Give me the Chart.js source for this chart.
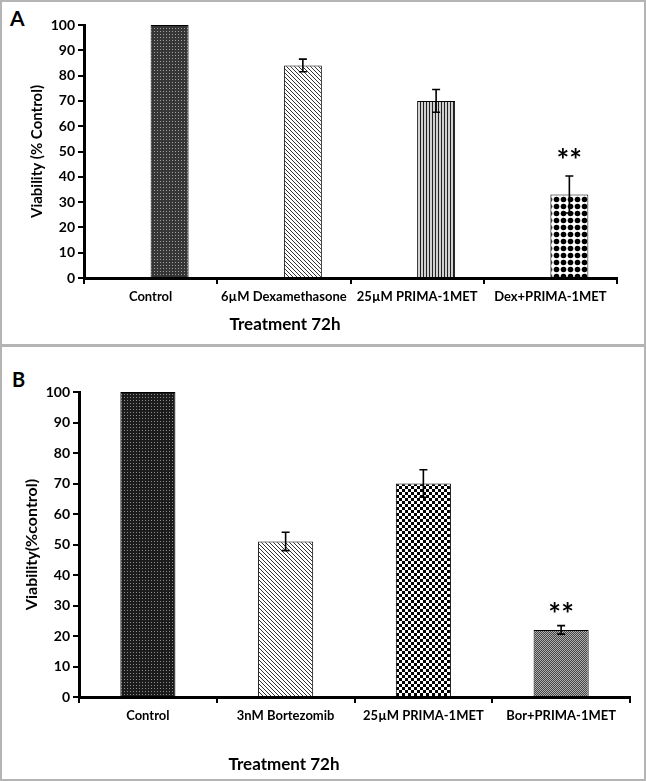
<!DOCTYPE html>
<html>
<head>
<meta charset="utf-8">
<script src="https://cdn.jsdelivr.net/npm/chart.js@4.4.1/dist/chart.umd.min.js"></script>
<style>
  body { margin: 0; background: #fff; font-family: Lato, sans-serif; }
  #page { position: relative; width: 646px; height: 781px; }
  .panel { position: absolute; left: 0; width: 646px; box-sizing: border-box; border: 2px solid #b4b4b4; }
  .letter { position: absolute; font-weight: bold; color: #000; }
  canvas { position: absolute; left: 0; }
</style>
</head>
<body>
<div id="page">
  <div class="panel" style="top:0;height:347px;"></div>
  <div class="panel" style="top:344px;height:437px;"></div>
  <div class="letter" style="left:10px;top:5px;font-size:21px;">A</div>
  <div class="letter" style="left:12px;top:367px;font-size:20px;">B</div>
  <canvas id="chartA" width="646" height="346" style="top:0;"></canvas>
  <canvas id="chartB" width="646" height="436" style="top:345px;"></canvas>
</div>
<script>
// panel A
const categoriesA = ["Control", "6µM Dexamethasone", "25µM PRIMA-1MET", "Dex+PRIMA-1MET"];
const viabilityA = [100, 84, 70, 33];
const errorA = [0, 2.5, 4.5, 7.3];
const starsA = ["", "", "", "**"];
const starLevelA = [null, null, null, 49];

// panel B
const categoriesB = ["Control", "3nM Bortezomib", "25µM PRIMA-1MET", "Bor+PRIMA-1MET"];
const viabilityB = [100, 51, 70, 22];
const errorB = [0, 3, 4.5, 1.4];
const starsB = ["", "", "", "**"];
const starLevelB = [null, null, null, 29];

const yTicks = [0, 10, 20, 30, 40, 50, 60, 70, 80, 90, 100];

function makePattern(w, h, draw) {
    const c = document.createElement("canvas");
    c.width = w;
    c.height = h;
    const g = c.getContext("2d");
    draw(g);
    return g.createPattern(c, "repeat");
}

const dotsDark = makePattern(3, 3, g => {
    g.fillStyle = "#363636"; g.fillRect(0, 0, 3, 3);
    g.fillStyle = "#a0a0a0"; g.fillRect(1, 1, 1, 1);
});
const hatch = makePattern(4, 4, g => {
    g.fillStyle = "#fff"; g.fillRect(0, 0, 4, 4);
    g.fillStyle = "#333";
    for (let i = 0; i < 4; i++) g.fillRect(i, i, 1, 1);
});
const stripes = makePattern(3, 1, g => {
    g.fillStyle = "#222"; g.fillRect(0, 0, 1, 1);
    g.fillStyle = "#d0d0d0"; g.fillRect(1, 0, 2, 1);
});
const diamonds = makePattern(7, 7, g => {
    g.fillStyle = "#fff"; g.fillRect(0, 0, 7, 7);
    g.fillStyle = "#000";
    g.beginPath(); g.arc(3.5, 3.5, 2.8, 0, Math.PI * 2); g.fill();
});
const dotsBlack = makePattern(3, 3, g => {
    g.fillStyle = "#1c1c1c"; g.fillRect(0, 0, 3, 3);
    g.fillStyle = "#8a8a8a"; g.fillRect(1, 1, 1, 1);
});
const checker = makePattern(6, 6, g => {
    g.fillStyle = "#fff"; g.fillRect(0, 0, 6, 6);
    g.fillStyle = "#000"; g.fillRect(0, 0, 3, 3); g.fillRect(3, 3, 3, 3);
});
const greyChecker = makePattern(2, 2, g => {
    g.fillStyle = "#444"; g.fillRect(0, 0, 2, 2);
    g.fillStyle = "#b0b0b0"; g.fillRect(1, 0, 1, 1); g.fillRect(0, 1, 1, 1);
});

// draws error bars and the ** marks from the arrays on the chart
const extrasPlugin = {
    id: "extras",
    afterDatasetsDraw(chart, args, opts) {
        const ctx = chart.ctx;
        const y = chart.scales.y;
        const meta = chart.getDatasetMeta(opts.dataIndex);
        ctx.save();
        ctx.strokeStyle = "#000";
        ctx.lineWidth = 1.6;
        meta.data.forEach((bar, i) => {
            const e = opts.errors[i];
            if (e > 0) {
                const v = opts.values[i];
                const top = y.getPixelForValue(v + e);
                const bot = y.getPixelForValue(v - e);
                ctx.beginPath();
                ctx.moveTo(bar.x, top); ctx.lineTo(bar.x, bot);
                ctx.moveTo(bar.x - 4, top); ctx.lineTo(bar.x + 4, top);
                ctx.moveTo(bar.x - 4, bot); ctx.lineTo(bar.x + 4, bot);
                ctx.stroke();
            }
            if (opts.stars[i]) {
                ctx.fillStyle = "#000";
                ctx.font = "bold 30px Lato";
                ctx.textAlign = "center";
                ctx.textBaseline = "middle";
                ctx.fillText(opts.stars[i], bar.x, y.getPixelForValue(opts.starLevels[i]) + 7);
            }
        });
        // x axis title
        ctx.fillStyle = "#000";
        ctx.font = "bold 17px Lato";
        ctx.textAlign = "center";
        ctx.textBaseline = "middle";
        ctx.fillText(opts.xTitle, opts.xTitleX, opts.xTitleY);
        ctx.restore();
    }
};

function axes(yTitle, yTitleSize, yWidth, xHeight) {
    return {
        x: {
            grid: { display: true, drawOnChartArea: false, drawTicks: true, tickLength: 6, color: "#000", lineWidth: 2 },
            border: { display: true, color: "#000", width: 3 },
            ticks: { color: "#000", font: { family: "Lato", weight: "bold", size: 13 }, padding: 5, maxRotation: 0, autoSkip: false },
            afterFit: s => { s.height = xHeight; }
        },
        y: {
            min: 0, max: 100,
            afterBuildTicks: s => { s.ticks = yTicks.map(v => ({ value: v })); },
            grid: { display: true, drawOnChartArea: false, drawTicks: true, tickLength: 6, color: "#000", lineWidth: 2 },
            border: { display: true, color: "#000", width: 3 },
            ticks: { color: "#000", font: { family: "Lato", weight: "bold", size: 14 }, padding: 3 },
            title: { display: true, text: yTitle, color: "#000", font: { family: "Lato", weight: "bold", size: yTitleSize }, padding: 0 },
            afterFit: s => { s.width = yWidth; }
        }
    };
}

new Chart(document.getElementById("chartA"), {
    type: "bar",
    data: {
        labels: categoriesA,
        datasets: [
            { data: categoriesA.map(() => null) },
            {
                data: viabilityA,
                backgroundColor: [dotsDark, hatch, stripes, diamonds],
                borderColor: "#000",
                borderWidth: 1
            }
        ]
    },
    options: {
        responsive: false,
        animation: false,
        devicePixelRatio: 1,
        categoryPercentage: 0.57,
        barPercentage: 1,
        layout: { padding: { left: 28, top: 25, right: 29, bottom: 38 } },
        scales: axes("Viability (% Control)", 15, 56, 30),
        plugins: {
            legend: { display: false },
            tooltip: { enabled: false },
            extras: {
                dataIndex: 1, values: viabilityA, errors: errorA,
                stars: starsA, starLevels: starLevelA,
                xTitle: "Treatment 72h", xTitleX: 285, xTitleY: 325
            }
        }
    },
    plugins: [extrasPlugin]
});

new Chart(document.getElementById("chartB"), {
    type: "bar",
    data: {
        labels: categoriesB,
        datasets: [{
            data: viabilityB,
            backgroundColor: [dotsBlack, hatch, checker, greyChecker],
            borderColor: "#000",
            borderWidth: 1
        }]
    },
    options: {
        responsive: false,
        animation: false,
        devicePixelRatio: 1,
        categoryPercentage: 0.4,
        barPercentage: 1,
        layout: { padding: { left: 22, top: 47, right: 16, bottom: 44 } },
        scales: axes("Viability(%control)", 16, 57, 40),
        plugins: {
            legend: { display: false },
            tooltip: { enabled: false },
            extras: {
                dataIndex: 0, values: viabilityB, errors: errorB,
                stars: starsB, starLevels: starLevelB,
                xTitle: "Treatment 72h", xTitleX: 284, xTitleY: 420
            }
        }
    },
    plugins: [extrasPlugin]
});
</script>
</body>
</html>
